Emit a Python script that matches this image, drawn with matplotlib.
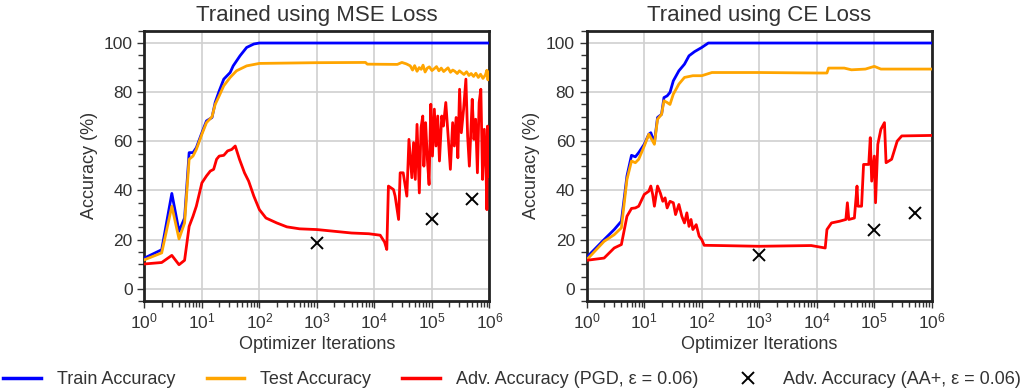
import numpy as np
import matplotlib
matplotlib.use("Agg")
import matplotlib.pyplot as plt
from matplotlib.ticker import MultipleLocator
from matplotlib.lines import Line2D

plt.rcParams["font.family"] = ["Liberation Sans", "DejaVu Sans"]
plt.rcParams["mathtext.default"] = "regular"

# ---- MSE loss run ----
mse_train_x = [1, 2, 3, 4, 5, 6, 7, 8, 10, 12, 15, 17, 20, 24, 31, 35, 46, 60, 80, 100, 1000000]
mse_train_y = [12.5, 15.9, 38.8, 23.4, 28.8, 55.4, 55.4, 57.4, 63.5, 68.3, 69.7, 75.8, 80.5, 85.3,
               88, 90.7, 94.8, 98.2, 99.6, 100, 100]

mse_test_x = [1, 2, 3, 4, 5, 6, 7, 8, 10, 12, 15, 17, 20, 24, 31, 40, 60, 100,
              1000, 7000, 7500, 25000, 30000, 36000,
              42000, 46000, 50000, 55000, 60000, 65000, 70000, 76000, 83000, 90000,
              100000, 110000, 120000, 132000, 145000, 160000, 175000, 190000, 210000, 230000,
              250000, 275000, 300000, 330000, 360000, 400000, 440000, 480000, 530000, 580000,
              640000, 700000, 770000, 850000, 900000, 940000, 970000, 1000000]
mse_test_y = [11.8, 14.6, 33.6, 20.3, 26.8, 52.7, 54, 56.7, 62.9, 67.6, 70, 75, 78.5, 82.6, 86, 88.7, 90.7, 91.7,
              92, 92.1, 91.4, 91.3, 92.1, 91.5,
              90.7, 89, 90.8, 88.5, 90, 89.3, 91, 88.2, 89.8, 90.3,
              88.8, 89.6, 90.4, 88.7, 89.8, 88.4, 89.2, 89.9, 88.1, 89,
              88.5, 87.6, 88.7, 87.9, 87.2, 88.3, 86.8, 87.6, 86.4, 87.7,
              86, 87.3, 85.6, 87, 88.9, 85, 87.5, 88.2]

mse_adv_x = [1, 2, 3, 4, 5, 6, 7, 8, 10, 12, 14, 16, 18, 20, 24, 28, 33, 38, 45, 55,
             65, 80, 100, 130, 200, 300, 500, 1000, 2000, 4000,
             8000, 12600, 15000, 16400, 17500, 21400, 22900, 26300, 28000, 31600,
             36600, 39800, 44700, 47900, 51300, 55000, 60300, 64600, 69200, 72400,
             77600, 83200, 89100, 95500, 102000, 110000, 117500, 126000, 135000, 148000,
             158000, 174000, 191000, 209000, 229000, 245000, 263000, 282000, 302000, 324000,
             355000, 389000, 417000, 447000, 479000, 501000, 537000, 575000, 617000, 661000,
             708000, 759000, 813000, 871000, 902000, 923000, 955000, 1000000]
mse_adv_y = [10.1, 10.7, 13.6, 9.8, 11.6, 25.4, 29.5, 33.6, 43.1, 45.9, 47.9, 48.6, 52.7, 54, 54.3, 56.1, 56.7, 58.1, 52.7, 47.2,
             43.8, 37.7, 32.2, 28.8, 26.8, 25.2, 24.4, 24.1, 23.4, 22.7,
             22.4, 21.8, 19, 16, 41.8, 40.4, 37.7, 28.2, 47.2, 47.2,
             37.7, 60.8, 45.2, 59.5, 44.5, 66.9, 39, 65.6, 70.3, 49.9,
             67.6, 52.7, 42.4, 75.1, 54, 73.1, 58.1, 70.3, 52, 70.3,
             66.2, 75.8, 62.2, 48.6, 67.6, 58.1, 69.7, 53.3, 81.2, 63.5,
             73.1, 85.3, 62.2, 49.9, 66.2, 77.1, 60.8, 69, 47.2, 75.8,
             81.2, 44.5, 64.9, 48.6, 32.2, 66.2, 45.8, 64.9]

mse_aa_x = [1000, 100000, 500000]
mse_aa_y = [18.6, 28.6, 36.6]

# ---- CE loss run ----
ce_train_x = [1, 2, 3, 4, 5, 6, 7, 8, 10, 12, 13, 15, 17, 20, 22, 25, 28, 32, 40, 50, 60, 75, 100, 130, 1000000]
ce_train_y = [12.8, 20, 24.1, 27.5, 45.9, 54.3, 53.7, 55.4, 58.8, 62.9, 63.5, 59.4, 69.7, 71, 77.8,
              78.5, 79.9, 84.6, 88.7, 91.4, 94.8, 96.5, 98.2, 100, 100]

ce_test_x = [1, 2, 3, 4, 5, 6, 7, 8, 10, 12, 15, 17, 20, 22, 25, 28, 32, 40, 50, 70, 100, 150,
             1000, 10000, 15000, 16000, 30000, 40000, 70000, 100000, 130000, 200000, 1000000]
ce_test_y = [11.8, 19.3, 22, 24.8, 44.5, 52, 51.3, 52.7, 58.1, 62.9, 58.8, 69, 71, 76.5, 75.8, 75, 79.2,
             83.3, 86, 86.7, 86.7, 88, 88, 87.8, 87.8, 89.8, 89.8, 89.1, 89.4, 90.5, 89.4, 89.4, 89.4]

ce_adv_x = [1, 2, 3, 4, 5, 6, 7, 8, 10, 12, 13, 14, 15, 17, 19, 21, 23, 25,
            28, 32, 35, 40, 45, 50, 55, 60, 65, 70,
            80, 90, 100, 110, 200, 1000, 8000, 14000, 15000, 18000,
            25000, 32000, 34000, 36000, 45000, 50000, 52000, 60000, 65000, 80000,
            85000, 90000, 100000, 105000, 115000, 130000, 150000, 160000, 200000, 250000,
            300000, 1000000]
ce_adv_y = [11.6, 12.5, 16.6, 18, 29.5, 32.7, 32.9, 33.6, 38.4, 39.7, 41.8, 38.4, 33.6, 41.8, 39, 35.6, 37, 32.9,
            35.6, 35, 30.2, 34.3, 29.5, 26.8, 30.9, 25.4, 28.2, 24.1,
            26.1, 21.4, 20, 17.7, 17.6, 17.3, 17.6, 16.6, 24.1, 26.8,
            27.5, 28.2, 35, 28.2, 28.8, 41.8, 33.6, 33.6, 50.6, 50.6,
            61.5, 43.8, 54, 35, 58.8, 64.9, 67.6, 51.3, 52.7, 60.1,
            62.2, 62.4]

ce_aa_x = [1000, 100000, 500000]
ce_aa_y = [13.9, 23.8, 30.9]

titles = ["Trained using MSE Loss", "Trained using CE Loss"]
runs = [
    (mse_train_x, mse_train_y, mse_test_x, mse_test_y, mse_adv_x, mse_adv_y, mse_aa_x, mse_aa_y),
    (ce_train_x, ce_train_y, ce_test_x, ce_test_y, ce_adv_x, ce_adv_y, ce_aa_x, ce_aa_y),
]

text_col = "#333333"
fig = plt.figure(figsize=(10.24, 3.89), dpi=100)
axes = [fig.add_axes([0.141, 0.226, 0.337, 0.695]),
        fig.add_axes([0.573, 0.226, 0.337, 0.695])]

for ax, title, run in zip(axes, titles, runs):
    trx, tr, tex, te, adx, ad, aax, aa = run
    ax.plot(trx, tr, color="blue", lw=2, zorder=3)
    ax.plot(tex, te, color="orange", lw=2, zorder=3)
    ax.plot(adx, ad, color="red", lw=2, zorder=3)
    ax.plot(aax, aa, ls="none", marker="x", color="black", ms=9, mew=1.4, zorder=4)

    ax.set_xscale("log")
    ax.set_xlim(1, 1e6)
    ax.set_ylim(-5, 105)
    ax.set_yticks([0, 20, 40, 60, 80, 100])
    ax.yaxis.set_minor_locator(MultipleLocator(5))
    ax.grid(True, which="major", color="#d0d0d0", lw=1.2)
    ax.set_axisbelow(True)
    for s in ax.spines.values():
        s.set_color("#222222")
        s.set_linewidth(2)
    ax.tick_params(which="both", direction="out", colors="#333333", labelsize=12.5, width=1)
    ax.tick_params(which="major", length=5)
    ax.tick_params(which="minor", length=4)
    ax.tick_params(axis="x", which="major", pad=2.5)
    ax.set_title(title, fontsize=16, color=text_col, pad=7)
    ax.set_xlabel("Optimizer Iterations", fontsize=13, color=text_col, labelpad=3)
    ax.set_ylabel("Accuracy (%)", fontsize=13, color=text_col)

handles = [Line2D([], [], color="blue", lw=2.5),
           Line2D([], [], color="orange", lw=2.5),
           Line2D([], [], color="red", lw=2.5),
           Line2D([], [], ls="none", marker="x", color="black", ms=9, mew=1.4)]
labels = ["Train Accuracy", "Test Accuracy", "Adv. Accuracy (PGD, ε = 0.06)", "Adv. Accuracy (AA+, ε = 0.06)"]
leg = fig.legend(handles, labels, loc="lower center", bbox_to_anchor=(0.5, -0.04), ncol=4,
                 frameon=False, fontsize=13, handlelength=2.1, handletextpad=0.85, columnspacing=1.75)
for t in leg.get_texts():
    t.set_color(text_col)

fig.savefig("out.png", dpi=100)
